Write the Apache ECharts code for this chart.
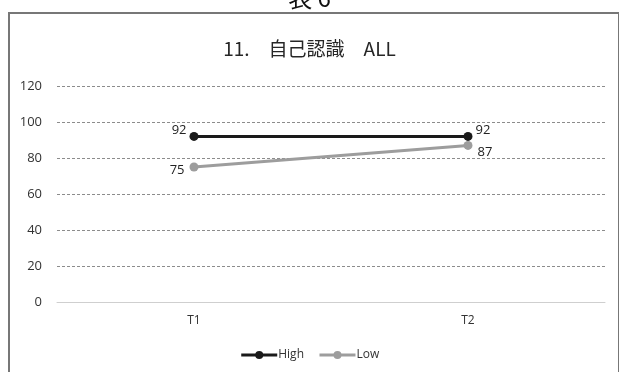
<!DOCTYPE html>
<html>
<head>
<meta charset="utf-8">
<script src="https://cdn.jsdelivr.net/npm/echarts@6/dist/echarts.min.js"></script>
<style>
html, body { margin: 0; padding: 0; background: #fff; }
#chart { width: 619px; height: 372px; }
</style>
</head>
<body>
<div id="chart"></div>
<script>
var categories = ['T1', 'T2'];
var highValues = [92, 92];
var lowValues = [75, 87];
var yTicks = { min: 0, max: 120, interval: 20 };

var font = '"Open Sans", "Noto Sans CJK JP", sans-serif';
var chart = echarts.init(document.getElementById('chart'));

function labelled(values, positions) {
    return values.map(function (v, i) {
        return { value: v, label: positions[i] };
    });
}

chart.setOption({
    animation: false,
    textStyle: { fontFamily: font },
    graphic: [
        {
            type: 'rect',
            shape: { x: 9, y: 13, width: 610, height: 380 },
            style: { fill: 'none', stroke: '#777', lineWidth: 2 },
            silent: true
        },
        {
            type: 'text',
            left: 'center',
            top: -14,
            style: { text: '表 6', fontSize: 24, fill: '#111', fontFamily: '"Noto Sans CJK JP", sans-serif' }
        }
    ],
    title: {
        text: '11.　自己認識　ALL',
        left: 'center',
        top: 34,
        textStyle: { fontSize: 19, fontWeight: 'normal', color: '#262626', fontFamily: '"Noto Sans CJK JP", sans-serif' }
    },
    grid: { left: 57, right: 14, top: 86, bottom: 70 },
    legend: {
        bottom: 6,
        left: 'center',
        itemWidth: 36,
        itemHeight: 10,
        itemGap: 14,
        lineStyle: { width: 3 },
        textStyle: { fontSize: 12, color: '#333', padding: [0, 0, 0, -4] },
        data: ['High', 'Low']
    },
    xAxis: {
        type: 'category',
        data: categories,
        boundaryGap: true,
        axisLine: { lineStyle: { color: '#cfcfcf', width: 1 } },
        axisTick: { show: false },
        axisLabel: { color: '#333', fontSize: 12, margin: 13 }
    },
    yAxis: {
        type: 'value',
        min: yTicks.min,
        max: yTicks.max,
        interval: yTicks.interval,
        axisLine: { show: false },
        axisTick: { show: false },
        axisLabel: { color: '#333', fontSize: 13, margin: 15 },
        splitLine: { lineStyle: { color: '#8c8c8c', type: [3, 2], width: 1 } }
    },
    series: [
        {
            name: 'High',
            type: 'line',
            data: labelled(highValues, [
                { position: 'left', offset: [2, -6] },
                { position: 'right', offset: [-2, -6] }
            ]),
            symbol: 'circle',
            symbolSize: 9,
            lineStyle: { color: '#1a1a1a', width: 3 },
            itemStyle: { color: '#1a1a1a' },
            label: { show: true, color: '#222', fontSize: 13 },
            z: 3
        },
        {
            name: 'Low',
            type: 'line',
            data: labelled(lowValues, [
                { position: 'left', offset: [0, 3] },
                { position: 'right', offset: [0, 7] }
            ]),
            symbol: 'circle',
            symbolSize: 9,
            lineStyle: { color: '#9d9d9d', width: 3 },
            itemStyle: { color: '#9d9d9d' },
            label: { show: true, color: '#222', fontSize: 13 },
            z: 2
        }
    ]
});
</script>
</body>
</html>
